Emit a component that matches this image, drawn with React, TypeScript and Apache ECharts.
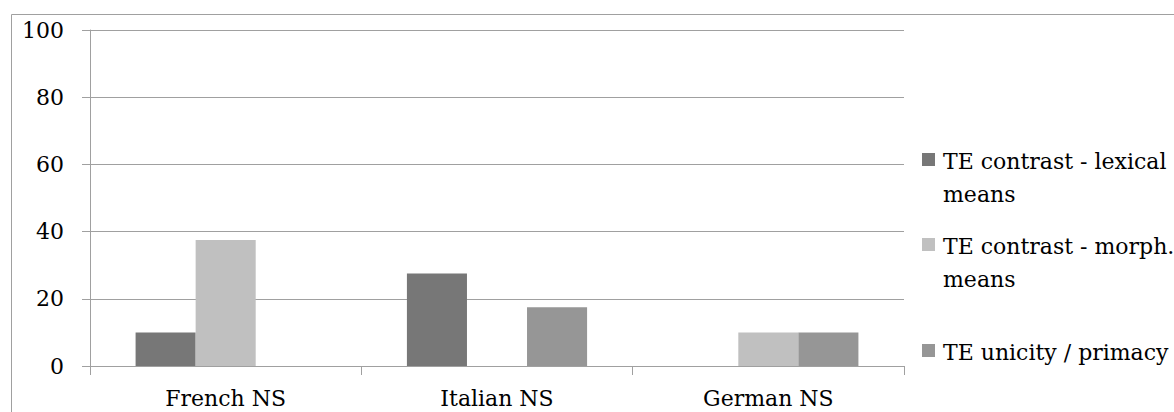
import React, { useEffect, useRef } from "react";
import * as echarts from "echarts";

const categories = ["French NS", "Italian NS", "German NS"];
const seriesNames = [
  "TE contrast - lexical\nmeans",
  "TE contrast - morph.\nmeans",
  "TE unicity / primacy",
];
const lexicalValues = [10, 27.5, 0];
const morphValues = [37.5, 0, 10];
const unicityValues = [0, 17.5, 10];
const yTicks = [0, 20, 40, 60, 80, 100];
const colors = ["#777777", "#c0c0c0", "#969696"];

export default function App() {
  const ref = useRef<HTMLDivElement>(null);
  useEffect(() => {
    if (!ref.current) return;
    const chart = echarts.init(ref.current, null, { renderer: "svg" });
    const font = "DejaVu Serif";
    const allValues = [lexicalValues, morphValues, unicityValues];
    const legendTops = [145, 230, 336];
    const legendGraphics: any[] = [];
    seriesNames.forEach((name, i) => {
      legendGraphics.push({
        type: "rect",
        shape: { x: 922, y: legendTops[i] + 8, width: 13, height: 13 },
        style: { fill: colors[i] },
      });
      legendGraphics.push({
        type: "text",
        x: 943,
        y: legendTops[i],
        style: {
          text: name,
          font: `22px "${font}"`,
          fill: "#000",
          lineHeight: 33,
          textVerticalAlign: "top",
        },
      });
    });
    chart.setOption({
      animation: false,
      graphic: [
        {
          type: "rect",
          shape: { x: 11.5, y: 14.5, width: 1200, height: 420 },
          style: { fill: "none", stroke: "#a0a0a0", lineWidth: 1 },
        },
        ...legendGraphics,
      ],
      grid: { left: 90, right: 270, top: 30, bottom: 46 },
      xAxis: {
        type: "category",
        data: categories,
        axisLine: { lineStyle: { color: "#a0a0a0", width: 1 } },
        axisTick: { show: true, length: 9, lineStyle: { color: "#a0a0a0" } },
        axisLabel: {
          color: "#000",
          fontFamily: font,
          fontSize: 22,
          margin: 21,
        },
      },
      yAxis: {
        type: "value",
        min: yTicks[0],
        max: yTicks[yTicks.length - 1],
        interval: 20,
        axisLine: { show: true, lineStyle: { color: "#a0a0a0", width: 1 } },
        axisTick: { show: true, inside: false, length: 8, lineStyle: { color: "#a0a0a0" } },
        axisLabel: {
          color: "#000",
          fontFamily: font,
          fontSize: 22,
          margin: 26,
        },
        splitLine: { lineStyle: { color: "#a0a0a0", width: 1 } },
      },
      series: allValues.map((vals, i) => ({
        type: "bar",
        name: seriesNames[i],
        data: vals,
        barGap: "0%",
        barCategoryGap: "33.6%",
        itemStyle: { color: colors[i] },
      })),
    });
    return () => chart.dispose();
  }, []);
  return (
    <div
      ref={ref}
      style={{ position: "absolute", left: 0, top: 0, width: 1174, height: 412 }}
    />
  );
}
